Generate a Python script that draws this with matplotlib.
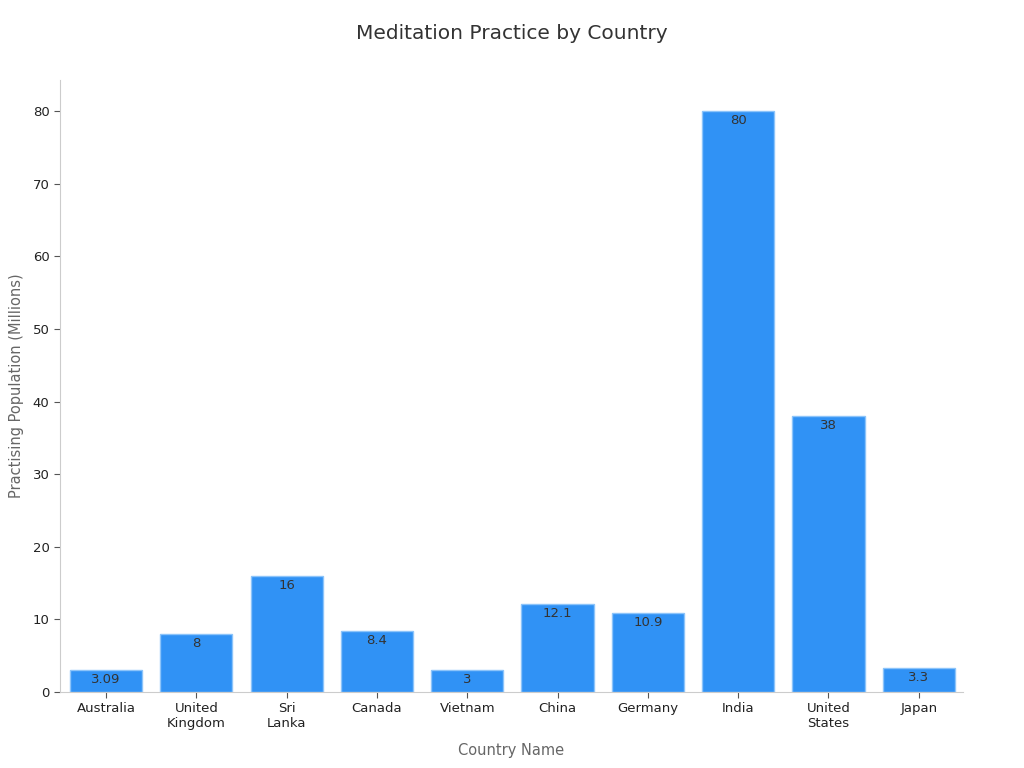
import matplotlib.pyplot as plt

countries = ["Australia", "United\nKingdom", "Sri\nLanka", "Canada", "Vietnam",
             "China", "Germany", "India", "United\nStates", "Japan"]
population = [3.09, 8, 16, 8.4, 3, 12.1, 10.9, 80, 38, 3.3]
value_labels = ["3.09", "8", "16", "8.4", "3", "12.1", "10.9", "80", "38", "3.3"]

fig = plt.figure(figsize=(10.24, 7.68), dpi=100)
ax = fig.add_axes([0.0586, 0.099, 0.8818, 0.797])

x = range(len(countries))
bars = ax.bar(x, population, width=0.8, color='#3092F5', edgecolor='#8CC4FA', linewidth=1)
for b, lab in zip(bars, value_labels):
    ax.text(b.get_x() + b.get_width() / 2, b.get_height() - 0.45, lab,
            ha='center', va='top', fontsize=9.5, color='#333333')

ax.set_xticks(list(x))
ax.set_xticklabels(countries, fontsize=9.5, color='#222222')
ax.set_xlim(-0.51, 9.49)
ax.set_ylim(0, 84.3)
ax.set_yticks([0, 10, 20, 30, 40, 50, 60, 70, 80])
ax.tick_params(axis='y', labelsize=9.5, colors='#222222')
ax.tick_params(axis='both', color='#555555', length=4)

for s in ['top', 'right']:
    ax.spines[s].set_visible(False)
ax.spines['left'].set_color('#cccccc')
ax.spines['bottom'].set_color('#cccccc')

ax.set_xlabel('Country Name', fontsize=10.5, color='#666666', labelpad=9)
ax.set_ylabel('Practising Population (Millions)', fontsize=10.5, color='#666666', labelpad=6)
fig.text(0.5, 0.957, 'Meditation Practice by Country', ha='center', va='center',
         fontsize=14.5, color='#333333')

fig.savefig('out.png', dpi=100)
